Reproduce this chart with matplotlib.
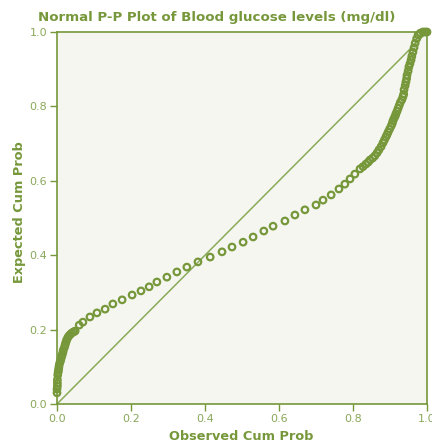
import matplotlib.pyplot as plt
import numpy as np

# observed / expected cumulative probabilities
observed = [0.000, 0.000, 0.001, 0.001, 0.001, 0.002, 0.003, 0.004, 0.005, 0.006,
            0.008, 0.010, 0.012, 0.014, 0.016, 0.017, 0.020, 0.022, 0.024, 0.026,
            0.029, 0.032, 0.036, 0.040, 0.045, 0.049, 0.060, 0.070, 0.089, 0.108,
            0.130, 0.151, 0.176, 0.203, 0.227, 0.249, 0.270, 0.297, 0.324, 0.351,
            0.381, 0.414, 0.446, 0.473, 0.503, 0.530, 0.559, 0.584, 0.616, 0.643,
            0.670, 0.700, 0.719, 0.741, 0.762, 0.778, 0.792, 0.805, 0.819, 0.827,
            0.835, 0.841, 0.846, 0.853, 0.859, 0.865, 0.870, 0.876, 0.881, 0.885,
            0.889, 0.892, 0.895, 0.899, 0.903, 0.906, 0.908, 0.911, 0.914, 0.916,
            0.919, 0.922, 0.925, 0.928, 0.932, 0.935, 0.937, 0.938, 0.941, 0.943,
            0.945, 0.946, 0.949, 0.951, 0.954, 0.957, 0.959, 0.962, 0.965, 0.968,
            0.972, 0.976, 0.982, 0.989, 0.995, 1.000]
expected = [0.030, 0.040, 0.048, 0.056, 0.065, 0.078, 0.085, 0.091, 0.098, 0.105,
            0.112, 0.118, 0.125, 0.132, 0.139, 0.145, 0.152, 0.159, 0.166, 0.172,
            0.178, 0.183, 0.187, 0.191, 0.194, 0.196, 0.212, 0.220, 0.234, 0.245,
            0.255, 0.269, 0.280, 0.293, 0.304, 0.315, 0.328, 0.341, 0.355, 0.368,
            0.382, 0.395, 0.409, 0.422, 0.435, 0.449, 0.465, 0.478, 0.492, 0.508,
            0.522, 0.535, 0.548, 0.562, 0.578, 0.591, 0.605, 0.618, 0.632, 0.638,
            0.645, 0.650, 0.656, 0.661, 0.667, 0.675, 0.683, 0.692, 0.702, 0.710,
            0.718, 0.724, 0.731, 0.739, 0.747, 0.754, 0.761, 0.768, 0.774, 0.780,
            0.787, 0.795, 0.803, 0.811, 0.818, 0.826, 0.833, 0.845, 0.856, 0.866,
            0.875, 0.884, 0.895, 0.906, 0.915, 0.925, 0.935, 0.946, 0.958, 0.970,
            0.982, 0.992, 0.997, 1.000, 1.000, 1.000]
ticks = [0.0, 0.2, 0.4, 0.6, 0.8, 1.0]

green = "#76973a"
tick_green = "#8aa85a"

fig = plt.figure(figsize=(4.32, 4.43), dpi=100)
ax = fig.add_axes([57/432, 39/443, 370/432, 372/443])
ax.set_facecolor("#f6f6f1")

ax.plot([0, 1], [0, 1], color="#8aaa5a", lw=1.1, zorder=2)
ax.scatter(observed, expected, s=22, facecolors="none", edgecolors=green,
           linewidths=1.6, zorder=3, clip_on=False)

ax.set_xlim(0, 1)
ax.set_ylim(0, 1)
ax.set_xticks(ticks)
ax.set_yticks(ticks)
ax.set_xticklabels(["%.1f" % t for t in ticks])
ax.set_yticklabels(["%.1f" % t for t in ticks])
ax.tick_params(direction="out", length=5, width=1, color=green,
               labelcolor=tick_green, labelsize=8, pad=2)
for sp in ax.spines.values():
    sp.set_color(green)
    sp.set_linewidth(1.2)

fig.text(217/432, 1 - 17/443, "Normal P-P Plot of Blood glucose levels (mg/dl)",
         color=green, fontsize=9.6, fontweight="bold", ha="center", va="center")
ax.set_xlabel("Observed Cum Prob", color=green, fontsize=9.3, fontweight="bold", va="center")
ax.xaxis.set_label_coords((241 - 57) / 370, (404 - 436) / 372)
ax.set_ylabel("Expected Cum Prob", color=green, fontsize=9.3, fontweight="bold", va="center")
ax.yaxis.set_label_coords((20 - 57) / 370, (404 - 212) / 372)

fig.savefig("out.png", dpi=100)
